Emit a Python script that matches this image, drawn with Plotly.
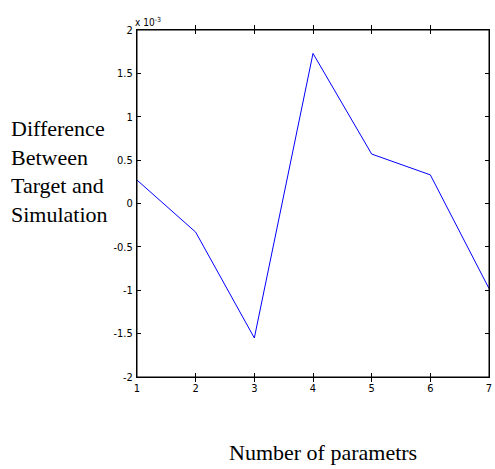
import plotly.graph_objects as go

# Number of parameters
params = [1, 2, 3, 4, 5, 6, 7]
# Difference (in units of 1e-3)
diff = [0.27, -0.33, -1.55, 1.73, 0.57, 0.33, -0.98]

y_ticks = [-2, -1.5, -1, -0.5, 0, 0.5, 1, 1.5, 2]
y_tick_labels = ["-2", "-1.5", "-1", "-0.5", "0", "0.5", "1", "1.5", "2"]
x_ticks = [1, 2, 3, 4, 5, 6, 7]

tick_font = dict(family="Liberation Sans Narrow, DejaVu Sans Condensed, Liberation Sans",
                 size=11, color="#000000")

fig = go.Figure()
fig.add_trace(go.Scatter(x=params, y=diff, mode="lines",
                         line=dict(color="#0000FF", width=1), showlegend=False))
# same data on a right-hand axis so its inside ticks are drawn (invisible line)
fig.add_trace(go.Scatter(x=params, y=diff, mode="lines", yaxis="y2",
                         line=dict(color="rgba(0,0,0,0)", width=0), showlegend=False,
                         hoverinfo="skip"))

axis_common = dict(showgrid=False, zeroline=False, showline=True, linecolor="#000000",
                   linewidth=1, mirror="allticks", ticks="inside", ticklen=4,
                   tickcolor="#000000", tickfont=tick_font, ticklabeloverflow="allow")

fig.update_xaxes(range=[1, 7], tickvals=x_ticks, ticktext=[str(v) for v in x_ticks],
                 ticklabelstandoff=1, **axis_common)
fig.update_yaxes(range=[-2, 2], tickvals=y_ticks, ticktext=y_tick_labels,
                 ticklabelstandoff=1, **axis_common)
fig.update_layout(yaxis2=dict(overlaying="y", side="right", range=[-2, 2], tickvals=y_ticks,
                              showticklabels=False, ticks="inside", ticklen=4,
                              tickcolor="#000000", showgrid=False, zeroline=False,
                              showline=True, linecolor="#000000", linewidth=1))

fig.add_shape(type="rect", xref="paper", yref="paper", x0=0, y0=0, x1=1, y1=1,
              line=dict(color="#000000", width=1), fillcolor="rgba(0,0,0,0)", layer="above")

fig.add_annotation(text="x 10<sup>-3</sup>", xref="paper", yref="paper", x=0, y=1,
                   xanchor="left", yanchor="bottom", showarrow=False, xshift=-4,
                   font=dict(family="Liberation Sans Narrow, DejaVu Sans Condensed, Liberation Sans",
                             size=10, color="#000000"))

fig.add_annotation(text="Difference<br>Between<br>Target and<br>Simulation", xref="paper", yref="paper",
                   x=0, y=0.5, xanchor="left", yanchor="middle", align="left",
                   xshift=-128, yshift=32, showarrow=False,
                   font=dict(family="Liberation Serif, Times New Roman", size=22, color="#000000"))

fig.add_annotation(text="Number of parametrs", xref="paper", yref="paper",
                   x=0.527, y=0, xanchor="center", yanchor="middle", showarrow=False,
                   yshift=-75,
                   font=dict(family="Liberation Serif, Times New Roman", size=22, color="#000000"))

fig.update_layout(width=495, height=469, margin=dict(l=137, r=3, t=30, b=92),
                  plot_bgcolor="#FFFFFF", paper_bgcolor="#FFFFFF")

fig.write_html("out.html", config={"displayModeBar": False},
               post_script="document.body.style.margin='0';document.body.style.overflow='hidden';")
